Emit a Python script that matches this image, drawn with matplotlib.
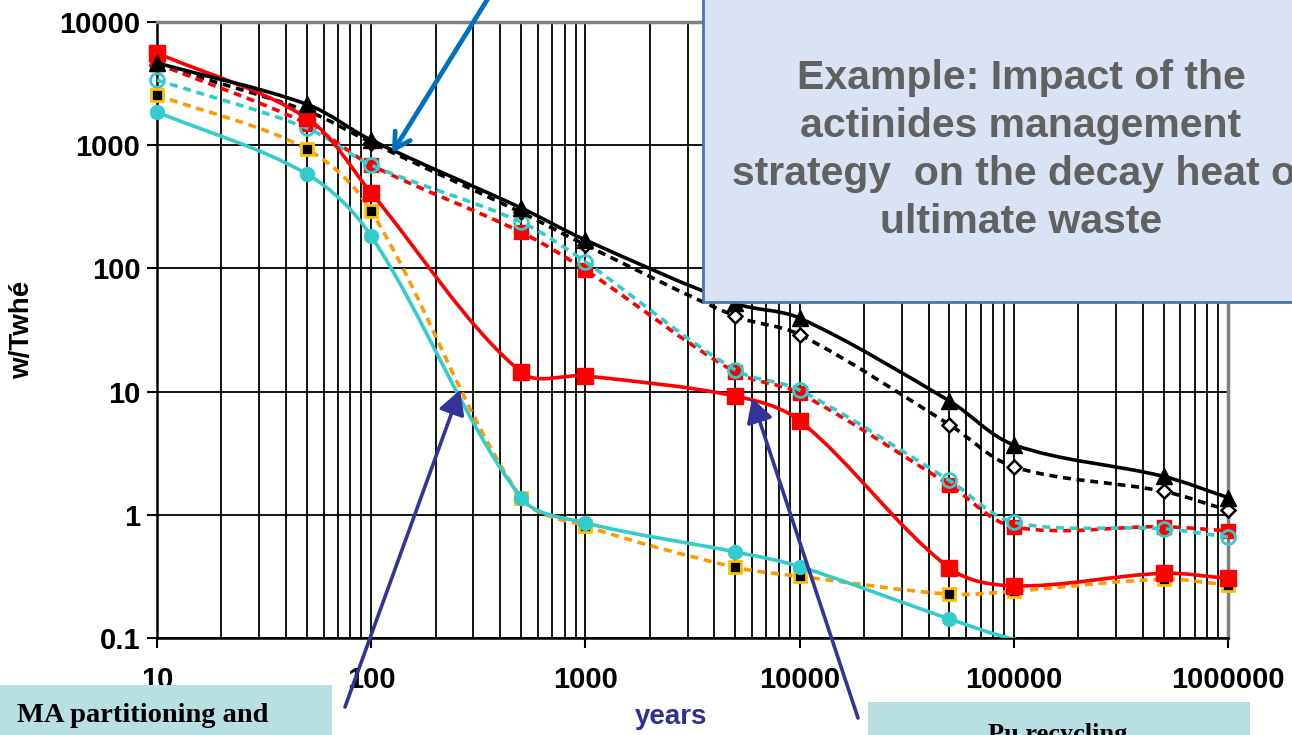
import matplotlib
matplotlib.use("Agg")
import matplotlib.pyplot as plt
import numpy as np
from matplotlib.path import Path
from matplotlib.patches import PathPatch, Rectangle, FancyArrowPatch
from matplotlib.ticker import FixedLocator, FixedFormatter, NullLocator, LogLocator

plt.rcParams['font.family'] = ['Liberation Sans', 'DejaVu Sans']

years = [10, 50, 100, 500, 1000, 5000, 10000, 50000, 100000, 500000, 1000000]
# w/TWhe
black_solid = [4650, 2150, 1100, 310, 170, 52, 39.5, 8.4, 3.7, 2.05, 1.38]
black_dot = [4500, 1900, 1050, 285, 155, 41, 29, 5.4, 2.45, 1.55, 1.09]
red_solid = [5600, 1660, 410, 14.4, 13.4, 9.2, 5.8, 0.37, 0.265, 0.335, 0.305]
red_dot = [4600, 1500, 690, 197, 97, 14.4, 9.7, 1.75, 0.8, 0.8, 0.74]
cyan_dot = [3380, 1380, 690, 238, 113, 15, 10.3, 1.9, 0.87, 0.77, 0.66]
orange_dot = [2550, 930, 292, 1.38, 0.81, 0.375, 0.317, 0.227, 0.24, 0.30, 0.27]
cyan_solid = [1860, 584, 183, 1.38, 0.86, 0.5, 0.38, 0.143, 0.098, 0.06, 0.05]

x_ticks = [10, 100, 1000, 10000, 100000, 1000000]
x_labels = ['10', '100', '1000', '10000', '100000', '1000000']
y_ticks = [0.1, 1, 10, 100, 1000, 10000]
y_labels = ['0.1', '1', '10', '100', '1000', '10000']

W, H = 1292, 735
SX, SY = 214.2, 123.2  # pixels per decade, used to shape the smoothing


def smooth_path(xs, ys, k=0.33):
    # smoothed line like the spreadsheet one: bezier through the points
    px = np.log10(xs) * SX
    py = np.log10(ys) * SY
    n = len(px)
    tang = []
    for i in range(n):
        a, b = max(i - 1, 0), min(i + 1, n - 1)
        t = np.array([px[b] - px[a], py[b] - py[a]])
        tang.append(t / np.hypot(*t))
    verts = [(xs[0], ys[0])]
    codes = [Path.MOVETO]
    for i in range(n - 1):
        d = np.hypot(px[i + 1] - px[i], py[i + 1] - py[i]) * k
        c1 = (px[i] + tang[i][0] * d, py[i] + tang[i][1] * d)
        c2 = (px[i + 1] - tang[i + 1][0] * d, py[i + 1] - tang[i + 1][1] * d)
        for cx, cy in (c1, c2):
            verts.append((10 ** (cx / SX), 10 ** (cy / SY)))
        verts.append((xs[i + 1], ys[i + 1]))
        codes += [Path.CURVE4] * 3
    return Path(verts, codes)


def fx(px):
    return px / W


def fy(py):
    return 1 - py / H


fig = plt.figure(figsize=(W / 100, H / 100), dpi=100)
ax = fig.add_axes([fx(157), fy(638), (1228 - 157) / W, (638 - 22) / H])
ax.set_xscale('log')
ax.set_yscale('log')
ax.set_xlim(10, 1000000)
ax.set_ylim(0.1, 10000)

dash = (0, (2.2, 1.6))
series = [
    (black_dot, 'black', dash, [dict(marker='D', ms=7, mfc='white', mec='black', mew=1.8)]),
    (red_dot, '#FF0000', dash, [dict(marker='s', ms=10, mfc='#FF0000', mec='#FF0000'),
                                dict(marker='o', ms=7, mfc='#FF0000', mec='#FF0000')]),
    (cyan_dot, '#33CCCC', dash, [dict(marker='o', ms=10, mfc='none', mec='#33CCCC', mew=2)]),
    (orange_dot, '#FF9900', dash, [dict(marker='s', ms=9, mfc='black', mec='#FFC000', mew=2)]),
    (cyan_solid, '#33CCCC', '-', [dict(marker='o', ms=10, mfc='#33CCCC', mec='#33CCCC')]),
    (red_solid, '#FF0000', '-', [dict(marker='s', ms=11, mfc='#FF0000', mec='#FF0000')]),
    (black_solid, 'black', '-', [dict(marker='^', ms=11, mfc='black', mec='black')]),
]
xa = np.array(years)
for i, (vals, col, ls, marks) in enumerate(series):
    patch = PathPatch(smooth_path(years, vals), fill=False, edgecolor=col, lw=2.6,
                      linestyle=ls, capstyle='butt', zorder=3 + i * 0.1)
    ax.add_patch(patch)
    va = np.array(vals)
    keep = va >= 0.1
    for j, mk in enumerate(marks):
        ax.plot(xa[keep], va[keep], ls='none', clip_on=False,
                zorder=3.05 + i * 0.1 + j * 0.01, **mk)

ax.xaxis.set_major_locator(FixedLocator(x_ticks))
ax.xaxis.set_major_formatter(FixedFormatter(x_labels))
ax.xaxis.set_minor_locator(LogLocator(base=10, subs=np.arange(2, 10)))
ax.yaxis.set_major_locator(FixedLocator(y_ticks))
ax.yaxis.set_major_formatter(FixedFormatter(y_labels))
ax.yaxis.set_minor_locator(NullLocator())
ax.grid(which='major', color='black', lw=1.3)
ax.grid(which='minor', axis='x', color='black', lw=1.3)
ax.set_axisbelow(True)
ax.tick_params(axis='both', which='major', length=7, width=1.5, direction='out',
               labelsize=21, pad=13)
ax.tick_params(axis='y', pad=5)
ax.tick_params(axis='x', which='minor', length=0)
for lab in ax.get_xticklabels() + ax.get_yticklabels():
    lab.set_fontweight('bold')
for s in ['left', 'bottom']:
    ax.spines[s].set_color('black')
    ax.spines[s].set_linewidth(1.8)
for s in ['top', 'right']:
    ax.spines[s].set_color('#808080')
    ax.spines[s].set_linewidth(2.5)

fig.text(fx(22), fy(330), 'w/Twhé', rotation=90, ha='center', va='center',
         fontsize=20, fontweight='bold')
fig.text(fx(671), fy(717), 'years', ha='center', va='center', fontsize=20,
         fontweight='bold', color='#2E3192')

# title box, running off the top and right edge
fig.add_artist(Rectangle((fx(703), fy(302)), fx(700), fy(-10) - fy(302),
                         transform=fig.transFigure, facecolor='#DAE3F3',
                         edgecolor='#4A76A8', lw=2, zorder=5))
fig.text(fx(1021), fy(150), 'Example: Impact of the\nactinides management\n'
         'strategy  on the decay heat of\nultimate waste', ha='center', va='center',
         fontsize=29.5, fontweight='bold', color='#616161', linespacing=1.33, zorder=6)

# bottom boxes
fig.add_artist(Rectangle((fx(0), fy(760)), fx(332), fy(685) - fy(760),
                         transform=fig.transFigure, facecolor='#B8DFE2',
                         edgecolor='none', zorder=5))
fig.text(fx(17), fy(722), 'MA partitioning and', ha='left', va='baseline',
         fontsize=20.5, fontweight='bold', family='Liberation Serif', zorder=6)
fig.text(fx(100), fy(758), 'transmutation', ha='left', va='baseline',
         fontsize=20.5, fontweight='bold', family='Liberation Serif', zorder=6)
fig.add_artist(Rectangle((fx(868), fy(760)), fx(382), fy(702) - fy(760),
                         transform=fig.transFigure, facecolor='#B8DFE2',
                         edgecolor='none', zorder=5))
fig.text(fx(1058), fy(741), 'Pu recycling', ha='center', va='baseline',
         fontsize=19, fontweight='bold', family='Liberation Serif', zorder=6)

# arrows
arrows = [
    ((492, -8), (392, 153), '#0070C0', 3.4, '->,head_length=7,head_width=4'),
    ((345, 707), (460, 390), '#333399', 2.6, '-|>,head_length=9,head_width=5'),
    ((858, 718), (752, 398), '#333399', 2.6, '-|>,head_length=9,head_width=5'),
]
for (x0, y0), (x1, y1), col, lw, style in arrows:
    fig.add_artist(FancyArrowPatch((fx(x0), fy(y0)), (fx(x1), fy(y1)),
                                   transform=fig.transFigure, color=col, lw=lw,
                                   arrowstyle=style, mutation_scale=1.6,
                                   shrinkA=0, shrinkB=0, zorder=7))

fig.savefig('out.png', dpi=100)
